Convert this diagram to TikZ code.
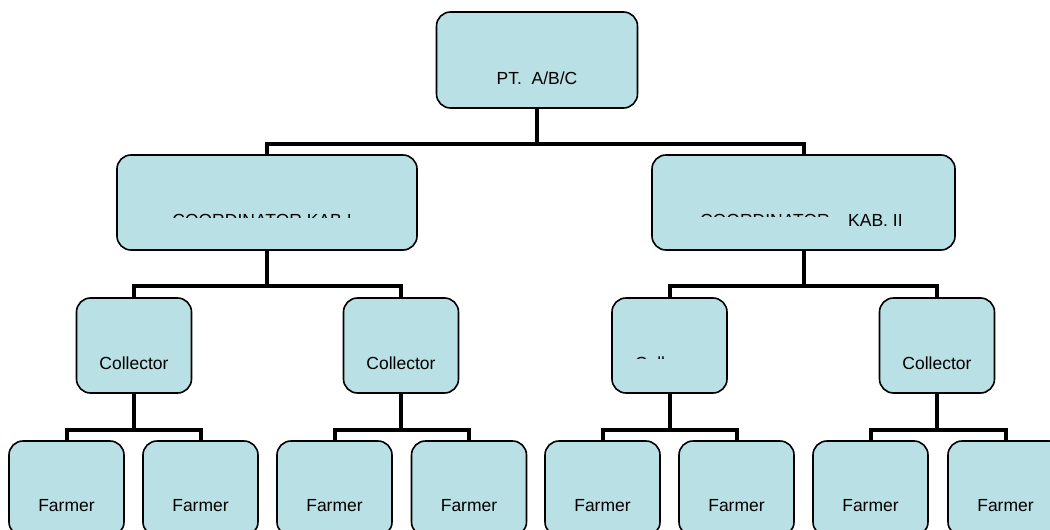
\documentclass[tikz,border=0pt]{standalone}
\usepackage{fontspec}
\setmainfont{Liberation Sans}
\usetikzlibrary{positioning, calc}
\definecolor{OrgBlue}{HTML}{B9E0E4}
\definecolor{OrgLine}{HTML}{000000}
\tikzset{
    % Box styles - rounded corners
    orgbox/.style={
        rectangle,
        rounded corners=14pt,
        draw=OrgLine,
        fill=OrgBlue,
        line width=1.6pt,
        minimum width=115pt,
        minimum height=95pt,
        inner sep=0pt
    },
    headbox/.style={
        orgbox,
        minimum width=201pt,
        minimum height=96pt
    },
    coordbox/.style={
        orgbox,
        minimum width=300pt
    },
    % Text inside the boxes
    boxlabel/.style={
        anchor=base,
        inner sep=0pt,
        font=\fontsize{17.5}{21}\selectfont
    },
    % Connector style - thick bus lines
    bus/.style={
        line width=4pt,
        draw=OrgLine
    }
}

\begin{document}
\begin{tikzpicture}[x=1pt, y=-1pt]
    \clip (0,0) rectangle (1050,530);

    % Head office
    \node[headbox] (pt) at (537,60) {};

    % Coordinators
    \node[coordbox] (kab1) at (267,202.5) {};
    \node[coordbox, minimum width=303pt] (kab2) at (803.5,202.5) {};

    % Collectors
    \foreach \name/\x in {col1/134, col2/401, col3/669.5, col4/937}
        \node[orgbox] (\name) at (\x,345.5) {};

    % Farmers
    \foreach \i/\x in {1/66.5, 2/200.5, 3/334.5, 4/469, 5/602.5, 6/736.5, 7/870.5, 8/1005.5}
        \node[orgbox] (farm\i) at (\x,488.5) {};

    % Labels
    \node[boxlabel] (pt-t) at ([yshift=-24pt]pt.center) {PT.\ \ A/B/C};
    \foreach \name in {col1, col2, col4}
        \node[boxlabel] (\name-t) at ([yshift=-23.5pt]\name.center) {Collector};
    \foreach \i in {1,...,8}
        \node[boxlabel] (farm\i-t) at ([yshift=-22.5pt]farm\i.center) {Farmer};

    % Labels that only show in part
    \begin{scope}
        \clip (120,160) rectangle (410,217);
        \node[boxlabel] (kab1-t) at ([xshift=-5pt, yshift=-23.5pt]kab1.center) {COORDINATOR KAB I};
    \end{scope}
    \begin{scope}
        \clip (660,160) rectangle (835,216);
        \node[boxlabel, anchor=base west] (kab2-ta) at (700,226) {COORDINATOR};
    \end{scope}
    \node[boxlabel, anchor=base west] (kab2-tb) at (848,226) {KAB. II};
    \begin{scope}
        \clip (615,300) rectangle (665,358.5);
        \node[boxlabel] (col3-t) at ([yshift=-23.5pt]col3.center) {Collector};
    \end{scope}

    % Connectors
    \draw[bus] (pt.south) -- ++(0,35) coordinate (bus0);
    \draw[bus] (kab1.north) |- (bus0) -| (kab2.north);

    \draw[bus] (kab1.south) -- ++(0,35) coordinate (bus1);
    \draw[bus] (col1.north) |- (bus1) -| (col2.north);
    \draw[bus] (kab2.south) -- ++(0,35) coordinate (bus2);
    \draw[bus] (col3.north) |- (bus2) -| (col4.north);

    \draw[bus] (col1.south) -- ++(0,36) coordinate (bus3);
    \draw[bus] (farm1.north) |- (bus3) -| (farm2.north);
    \draw[bus] (col2.south) -- ++(0,36) coordinate (bus4);
    \draw[bus] (farm3.north) |- (bus4) -| (farm4.north);
    \draw[bus] (col3.south) -- ++(0,36) coordinate (bus5);
    \draw[bus] (farm5.north) |- (bus5) -| (farm6.north);
    \draw[bus] (col4.south) -- ++(0,36) coordinate (bus6);
    \draw[bus] (farm7.north) |- (bus6) -| (farm8.north);
\end{tikzpicture}
\end{document}
